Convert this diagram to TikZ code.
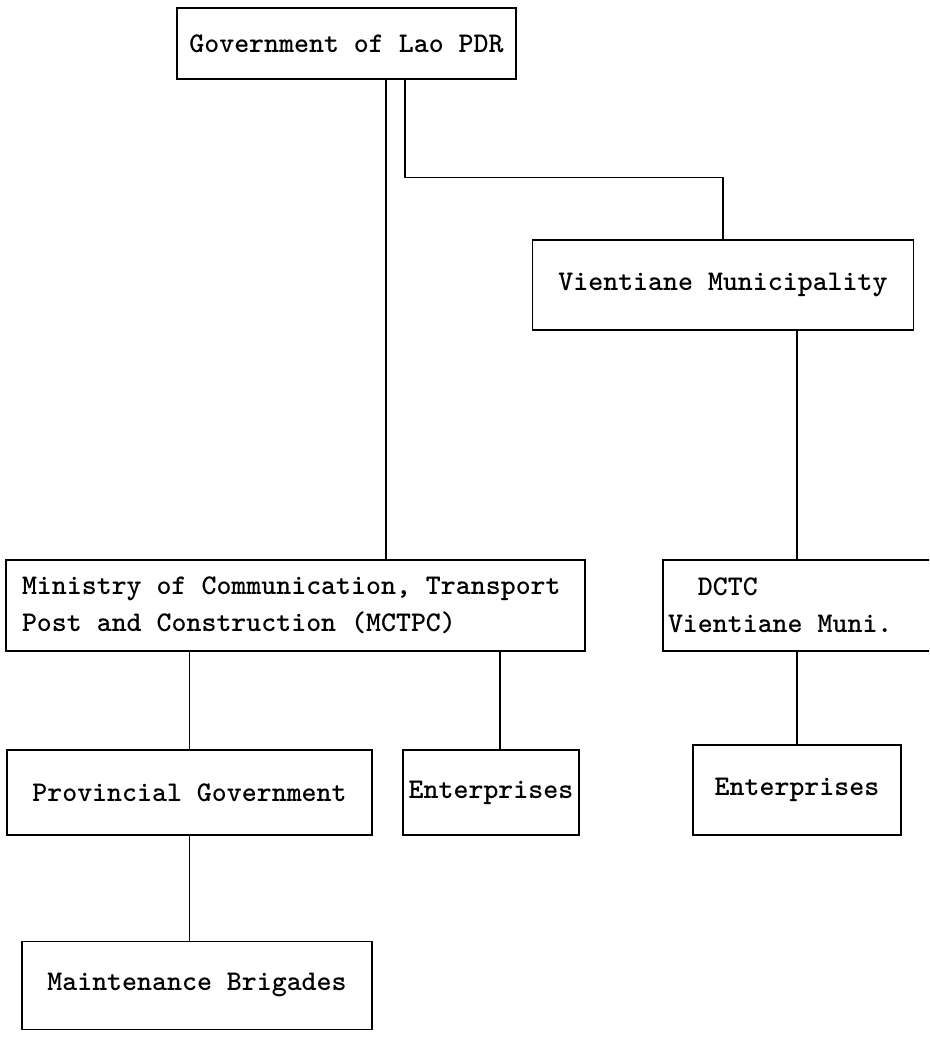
\documentclass[tikz,border=0pt]{standalone}
\usepackage{tikz}
\usetikzlibrary{positioning}
\tikzset{x=1pt, y=-1pt, % one unit is one pixel of the chart, y runs down
orgbox/.style={ % Sets the properties for each box of the chart
draw, line width=1.4pt,
inner sep=0pt,
font=\ttfamily\bfseries\fontsize{28.5}{37}\selectfont},
leftbox/.style={ % boxes with text set flush left
orgbox, align=flush left}}

\begin{document}
\begin{tikzpicture}[line width=1.4pt]

    \useasboundingbox (0,0) rectangle (929,1060);
    \clip (0,0) rectangle (929,1060);

    \node[orgbox, minimum width=339pt, minimum height=71pt] (gov) at (346.5,43.5) {Government of Lao PDR};
    \node[orgbox, minimum width=381pt, minimum height=90pt] (vien) at (723,285) {Vientiane Municipality};
    \node[leftbox, text width=547pt, inner xsep=16pt, minimum height=91pt] (mctpc) at (295.5,605.5) {Ministry of Communication, Transport\\Post and Construction (MCTPC)};
    \node[leftbox, text width=270pt, inner xsep=5pt, minimum height=91pt] (dctc) at (803,605.5) {\hphantom{Vi}DCTC\\Vientiane Muni.};
    \node[orgbox, minimum width=365pt, minimum height=85pt] (prov) at (189.5,792.5) {Provincial Government};
    \node[orgbox, minimum width=176pt, minimum height=85pt] (entA) at (491,792.5) {Enterprises};
    \node[orgbox, minimum width=208pt, minimum height=90pt] (entB) at (797,790) {Enterprises};
    \node[orgbox, minimum width=350pt, minimum height=88pt, below=105pt of prov.south, anchor=north, xshift=7.5pt] (maint) {Maintenance Brigades};

    \draw ([xshift=39.5pt]gov.south) -- ([xshift=39.5pt]gov.south |- mctpc.north);
    \draw ([xshift=58.5pt]gov.south) -- ++(0,98) -| (vien.north);
    \draw (entB.north |- vien.south) -- (entB.north |- dctc.north);
    \draw (prov.north |- mctpc.south) -- (prov.north);
    \draw ([xshift=9pt]entA.north |- mctpc.south) -- ([xshift=9pt]entA.north);
    \draw (entB.north |- dctc.south) -- (entB.north);
    \draw (prov.south |- maint.north) -- (prov.south);

    \end{tikzpicture}
\end{document}
